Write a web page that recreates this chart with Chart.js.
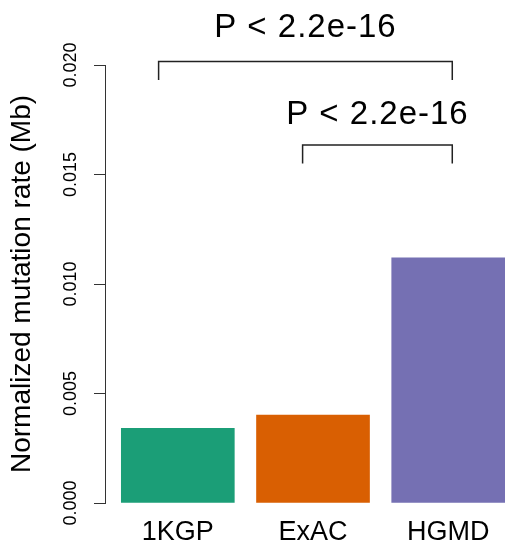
<!DOCTYPE html>
<html>
<head>
<meta charset="utf-8">
<script src="https://cdn.jsdelivr.net/npm/chart.js@4.4.1/dist/chart.umd.min.js"></script>
<style>
  html, body { margin: 0; padding: 0; background: #fff; }
  canvas { display: block; }
</style>
</head>
<body>
<canvas id="rateChart" width="505" height="547"></canvas>
<script>
const categories = ["1KGP", "ExAC", "HGMD"];
const mutationRates = [0.00341, 0.00402, 0.01119];
const yTickValues = [0, 0.005, 0.01, 0.015, 0.02];
const comparisons = [["1KGP", "HGMD"], ["ExAC", "HGMD"]];
const pLabels = ["P < 2.2e-16", "P < 2.2e-16"];

const barColors = ["#1B9E77", "#D95F02", "#7570B3"];
const fontFamily = "'Liberation Sans', Arial, Helvetica, sans-serif";

// bracket placement: ends as offsets from the category index, heights in data units
const bracketLayout = [
  { left: -0.142, right: 0.03, y: 0.02016, tip: 0.01932, textY: 0.02129 },
  { left: -0.077, right: 0.03, y: 0.01635, tip: 0.0155, textY: 0.01731 }
];

const bracketPlugin = {
  id: "brackets",
  afterDraw(chart) {
    const { ctx, scales: { x, y } } = chart;
    ctx.save();
    ctx.strokeStyle = "#222";
    ctx.lineWidth = 1.5;
    ctx.fillStyle = "#000";
    ctx.font = "33px " + fontFamily;
    ctx.letterSpacing = "1px";
    ctx.textAlign = "center";
    ctx.textBaseline = "alphabetic";
    comparisons.forEach((pair, i) => {
      const lay = bracketLayout[i];
      const x0 = x.getPixelForValue(categories.indexOf(pair[0]) + 1 + lay.left);
      const x1 = x.getPixelForValue(categories.indexOf(pair[1]) + 1 + lay.right);
      const yTop = y.getPixelForValue(lay.y);
      const yTip = y.getPixelForValue(lay.tip);
      ctx.beginPath();
      ctx.moveTo(x0, yTip);
      ctx.lineTo(x0, yTop);
      ctx.lineTo(x1, yTop);
      ctx.lineTo(x1, yTip);
      ctx.stroke();
      ctx.fillText(pLabels[i], (x0 + x1) / 2, y.getPixelForValue(lay.textY));
    });
    ctx.restore();
  }
};

const rateCtx = document.getElementById("rateChart").getContext("2d");
const rateChart = new Chart(rateCtx, {
  type: "bar",
  data: {
    datasets: [{
      data: categories.map((c, i) => ({ x: i + 1, y: mutationRates[i] })),
      backgroundColor: barColors,
      borderWidth: 0,
      barThickness: 113
    }]
  },
  options: {
    responsive: false,
    animation: false,
    layout: {
      padding: { top: 65, left: 0, right: 0, bottom: 0 }
    },
    plugins: {
      legend: { display: false },
      tooltip: { enabled: false }
    },
    scales: {
      x: {
        type: "linear",
        offset: false,
        min: 0.4615,
        max: 3.42,
        grid: { display: false, drawTicks: false, offset: false },
        border: { display: false },
        afterBuildTicks: (scale) => {
          scale.ticks = categories.map((c, i) => ({ value: i + 1 }));
        },
        afterFit: (scale) => { scale.height = 44; },
        ticks: {
          autoSkip: false,
          maxRotation: 0,
          padding: 13,
          color: "#000",
          font: { family: fontFamily, size: 27 },
          callback: (v) => categories[Math.round(v) - 1]
        }
      },
      y: {
        min: 0,
        max: 0.02,
        afterBuildTicks: (scale) => {
          scale.ticks = yTickValues.map((v) => ({ value: v }));
        },
        afterFit: (scale) => { scale.width = 105; },
        grid: {
          drawOnChartArea: false,
          drawTicks: true,
          tickLength: 11,
          color: "#333",
          lineWidth: 1
        },
        border: { display: true, color: "#333", width: 1 },
        ticks: {
          minRotation: 90,
          maxRotation: 90,
          crossAlign: "center",
          padding: 0,
          color: "#000",
          font: { family: fontFamily, size: 18 },
          callback: (v) => Number(v).toFixed(3)
        },
        title: {
          display: true,
          text: "Normalized mutation rate (Mb)",
          color: "#000",
          font: { family: fontFamily, size: 28 },
          padding: { top: 5.4, bottom: 0 }
        }
      }
    }
  },
  plugins: [bracketPlugin]
});
</script>
</body>
</html>
